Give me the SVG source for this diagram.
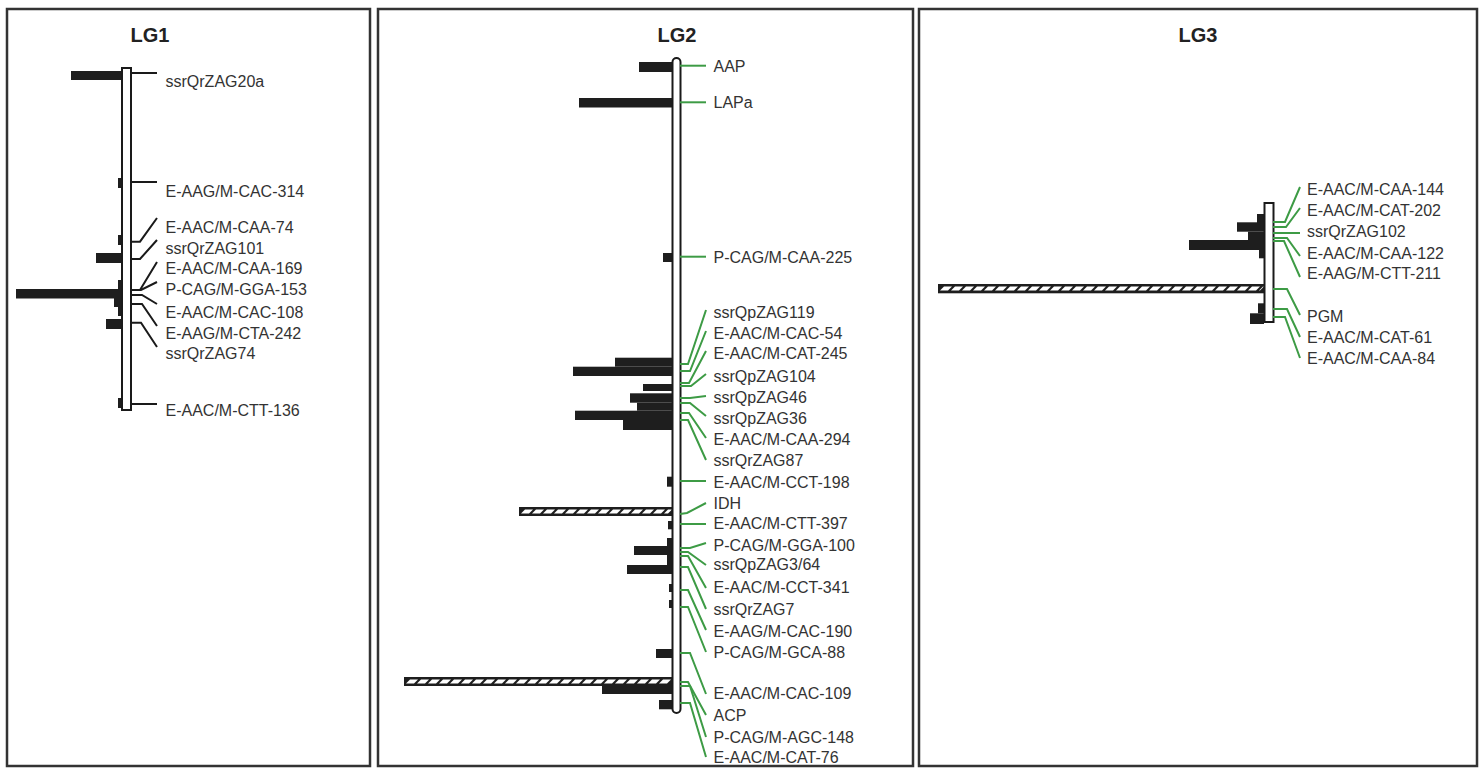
<svg xmlns="http://www.w3.org/2000/svg" width="1482" height="772" viewBox="0 0 1482 772">
<style>
.panel{fill:#fff;stroke:#333;stroke-width:2.5}
.title{font-family:"Liberation Sans",Arial,sans-serif;font-size:20px;font-weight:bold;fill:#222;text-anchor:middle}
.lbl{font-family:"Liberation Sans",Arial,sans-serif;font-size:16px;fill:#333}
.bar{fill:#1e1e1e}
.chr{fill:#fff;stroke:#1a1a1a;stroke-width:2}
.bl{fill:none;stroke:#1a1a1a;stroke-width:2}
.gl{fill:none;stroke:#3d9b45;stroke-width:2}
.hb{fill:#1e1e1e}
.hd{stroke:#fff;stroke-width:4;stroke-dasharray:8 3}
</style>
<rect width="1482" height="772" fill="#fff"/>
<g id="panel-LG1">
<rect class="panel" x="7" y="9" width="363" height="757"/>
<text class="title" x="150" y="42">LG1</text>
</g>
<g id="panel-LG2">
<rect class="panel" x="378" y="9" width="535" height="757"/>
<text class="title" x="677" y="42">LG2</text>
</g>
<g id="panel-LG3">
<rect class="panel" x="919" y="9" width="558" height="757"/>
<text class="title" x="1198" y="42">LG3</text>
</g>
<g id="bars-LG1">
<rect class="bar" x="71" y="71" width="51" height="9"/>
<rect class="bar" x="118" y="178" width="4" height="10"/>
<rect class="bar" x="118" y="235" width="4" height="10"/>
<rect class="bar" x="96" y="253" width="26" height="10"/>
<rect class="bar" x="118" y="280" width="4" height="10"/>
<rect class="bar" x="16" y="289" width="106" height="9.5"/>
<rect class="bar" x="114" y="298" width="8" height="9"/>
<rect class="bar" x="118" y="307" width="4" height="9"/>
<rect class="bar" x="106" y="319" width="16" height="10"/>
<rect class="bar" x="118" y="398" width="4" height="10"/>
</g>
<g id="bars-LG2">
<rect class="bar" x="639" y="62" width="33" height="10"/>
<rect class="bar" x="579" y="98" width="93" height="9.5"/>
<rect class="bar" x="663" y="253" width="9" height="9"/>
<rect class="bar" x="615" y="357.7" width="57" height="9"/>
<rect class="bar" x="573" y="366.7" width="99" height="9.3"/>
<rect class="bar" x="643" y="384" width="29" height="7"/>
<rect class="bar" x="630" y="393.3" width="42" height="9.4"/>
<rect class="bar" x="637" y="402.7" width="35" height="8"/>
<rect class="bar" x="575" y="410.7" width="97" height="9.3"/>
<rect class="bar" x="623" y="420" width="49" height="10"/>
<rect class="bar" x="667" y="476.7" width="5" height="10"/>
<rect class="hb" x="519" y="507" width="153" height="9"/>
<line class="hd" x1="4" y1="0" x2="151" y2="0" transform="translate(519 511.5) skewX(-45)"/>
<rect class="bar" x="668" y="521" width="4" height="8.3"/>
<rect class="bar" x="667" y="538" width="5" height="36"/>
<rect class="bar" x="634" y="546" width="38" height="9"/>
<rect class="bar" x="627" y="565" width="45" height="9"/>
<rect class="bar" x="669" y="584" width="3" height="8"/>
<rect class="bar" x="669" y="600" width="3" height="8"/>
<rect class="bar" x="656" y="649" width="16" height="9"/>
<rect class="hb" x="404" y="677" width="268" height="9"/>
<line class="hd" x1="4" y1="0" x2="266" y2="0" transform="translate(404 681.5) skewX(-45)"/>
<rect class="bar" x="602" y="686" width="70" height="8"/>
<rect class="bar" x="659" y="700" width="13" height="9.3"/>
</g>
<g id="bars-LG3">
<rect class="bar" x="1257" y="214" width="7" height="9.3"/>
<rect class="bar" x="1237" y="222.3" width="27" height="9.4"/>
<rect class="bar" x="1248" y="231.7" width="16" height="8.3"/>
<rect class="bar" x="1189" y="240" width="75" height="10"/>
<rect class="bar" x="1259" y="250" width="5" height="8.3"/>
<rect class="hb" x="938" y="284" width="326" height="9.3"/>
<line class="hd" x1="4" y1="0" x2="324" y2="0" transform="translate(938 288.6) skewX(-45)"/>
<rect class="bar" x="1258" y="303.3" width="6" height="10"/>
<rect class="bar" x="1250" y="313.3" width="14" height="10.7"/>
</g>
<g id="chromosome-LG1"><rect class="chr" x="122" y="68" width="9" height="342"/></g>
<g id="chromosome-LG2"><rect class="chr" x="672.5" y="58" width="8" height="655" rx="4"/></g>
<g id="chromosome-LG3"><rect class="chr" x="1264.5" y="203" width="9" height="119"/></g>
<g id="connectors">
<path class="bl" d="M131 73H157"/>
<path class="bl" d="M131 182H157"/>
<path class="bl" d="M131 241.7H140L157 218"/>
<path class="bl" d="M131 259H140L157 240"/>
<path class="bl" d="M131 290H140L157 262"/>
<path class="bl" d="M131 290H141L157 282"/>
<path class="bl" d="M131 295H142L157 304"/>
<path class="bl" d="M131 304H142L157 326"/>
<path class="bl" d="M131 322.7H141L157 347"/>
<path class="bl" d="M131 404H157"/>
<path class="gl" d="M680 65.7H706"/>
<path class="gl" d="M680 102.3H706"/>
<path class="gl" d="M680 256.7H706"/>
<path class="gl" d="M680 364H688L706 310"/>
<path class="gl" d="M680 371H690L706 331"/>
<path class="gl" d="M680 383H689L706 351"/>
<path class="gl" d="M680 386H691L706 374"/>
<path class="gl" d="M680 398H690L706 396"/>
<path class="gl" d="M680 403H690L706 416"/>
<path class="gl" d="M680 413H689L706 438"/>
<path class="gl" d="M680 420H688L706 460"/>
<path class="gl" d="M680 481H706"/>
<path class="gl" d="M680 514L687 513L706 503"/>
<path class="gl" d="M680 524H706"/>
<path class="gl" d="M680 548H690L706 543"/>
<path class="gl" d="M680 552H688L706 565"/>
<path class="gl" d="M680 556H688L706 588"/>
<path class="gl" d="M680 567H688L706 609"/>
<path class="gl" d="M680 590H688L706 630"/>
<path class="gl" d="M680 607H688L706 652"/>
<path class="gl" d="M680 653H690L706 694"/>
<path class="gl" d="M680 682H688L706 715"/>
<path class="gl" d="M680 686H690L706 737"/>
<path class="gl" d="M680 703H690L706 757"/>
<path class="gl" d="M1273 222H1285L1300 187"/>
<path class="gl" d="M1273 227H1286L1300 208"/>
<path class="gl" d="M1273 233H1300"/>
<path class="gl" d="M1273 238H1287L1300 256"/>
<path class="gl" d="M1273 241H1284L1300 277"/>
<path class="gl" d="M1273 289H1287L1300 315"/>
<path class="gl" d="M1273 309H1287L1300 337"/>
<path class="gl" d="M1273 317H1285L1300 358"/>
</g>
<g id="labels-LG1">
<text class="lbl" x="165.5" y="86.5">ssrQrZAG20a</text>
<text class="lbl" x="165.5" y="196.8">E-AAG/M-CAC-314</text>
<text class="lbl" x="165.5" y="232.5">E-AAC/M-CAA-74</text>
<text class="lbl" x="165.5" y="253.5">ssrQrZAG101</text>
<text class="lbl" x="165.5" y="274">E-AAC/M-CAA-169</text>
<text class="lbl" x="165.5" y="295">P-CAG/M-GGA-153</text>
<text class="lbl" x="165.5" y="317.5">E-AAC/M-CAC-108</text>
<text class="lbl" x="165.5" y="338.5">E-AAG/M-CTA-242</text>
<text class="lbl" x="165.5" y="359">ssrQrZAG74</text>
<text class="lbl" x="165.5" y="416">E-AAC/M-CTT-136</text>
</g>
<g id="labels-LG2">
<text class="lbl" x="713.5" y="71.5">AAP</text>
<text class="lbl" x="713.5" y="108">LAPa</text>
<text class="lbl" x="713.5" y="262.5">P-CAG/M-CAA-225</text>
<text class="lbl" x="713.5" y="317.5">ssrQpZAG119</text>
<text class="lbl" x="713.5" y="338.5">E-AAC/M-CAC-54</text>
<text class="lbl" x="713.5" y="359">E-AAC/M-CAT-245</text>
<text class="lbl" x="713.5" y="381.5">ssrQpZAG104</text>
<text class="lbl" x="713.5" y="402.5">ssrQpZAG46</text>
<text class="lbl" x="713.5" y="423.5">ssrQpZAG36</text>
<text class="lbl" x="713.5" y="445">E-AAC/M-CAA-294</text>
<text class="lbl" x="713.5" y="466">ssrQrZAG87</text>
<text class="lbl" x="713.5" y="487.5">E-AAC/M-CCT-198</text>
<text class="lbl" x="713.5" y="508.5">IDH</text>
<text class="lbl" x="713.5" y="529">E-AAC/M-CTT-397</text>
<text class="lbl" x="713.5" y="551">P-CAG/M-GGA-100</text>
<text class="lbl" x="713.5" y="570">ssrQpZAG3/64</text>
<text class="lbl" x="713.5" y="593">E-AAC/M-CCT-341</text>
<text class="lbl" x="713.5" y="615">ssrQrZAG7</text>
<text class="lbl" x="713.5" y="636.5">E-AAG/M-CAC-190</text>
<text class="lbl" x="713.5" y="658">P-CAG/M-GCA-88</text>
<text class="lbl" x="713.5" y="698.5">E-AAC/M-CAC-109</text>
<text class="lbl" x="713.5" y="721">ACP</text>
<text class="lbl" x="713.5" y="742.5">P-CAG/M-AGC-148</text>
<text class="lbl" x="713.5" y="763">E-AAC/M-CAT-76</text>
</g>
<g id="labels-LG3">
<text class="lbl" x="1307" y="195">E-AAC/M-CAA-144</text>
<text class="lbl" x="1307" y="216">E-AAC/M-CAT-202</text>
<text class="lbl" x="1307" y="236.5">ssrQrZAG102</text>
<text class="lbl" x="1307" y="258.5">E-AAC/M-CAA-122</text>
<text class="lbl" x="1307" y="279">E-AAG/M-CTT-211</text>
<text class="lbl" x="1307" y="321.5">PGM</text>
<text class="lbl" x="1307" y="342.5">E-AAC/M-CAT-61</text>
<text class="lbl" x="1307" y="364">E-AAC/M-CAA-84</text>
</g>
</svg>
